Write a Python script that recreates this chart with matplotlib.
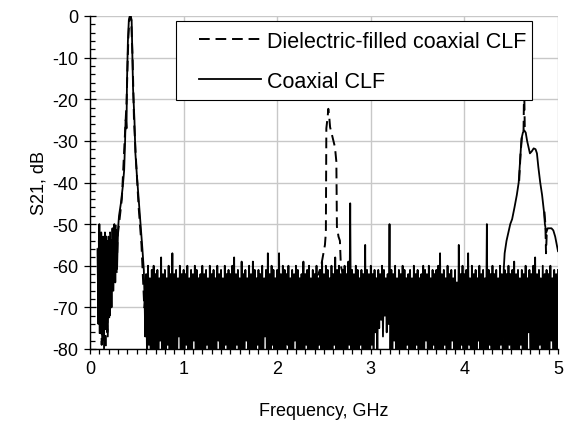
import numpy as np
import matplotlib
matplotlib.use("Agg")
import matplotlib.pyplot as plt
from matplotlib.patches import Rectangle
from matplotlib.ticker import MultipleLocator

plt.rcParams['font.family'] = ['Liberation Sans', 'DejaVu Sans']
plt.rcParams['axes.unicode_minus'] = False

# ---------------- data ----------------
# Coaxial CLF (solid line)
coax_cluster_f = [0.08, 0.09, 0.10, 0.11, 0.12, 0.13, 0.14, 0.15, 0.16, 0.17, 0.18,
                  0.19, 0.20, 0.21, 0.22, 0.23, 0.24, 0.25, 0.26, 0.27, 0.28, 0.29, 0.30]
coax_cluster_db = [-56, -74, -50, -76, -52, -78, -53, -80, -52, -75, -54,
                   -77, -53, -72, -55, -70, -51, -66, -50, -64, -52, -60, -51]

coax_peak1_f = [0.31, 0.33, 0.35, 0.365, 0.375, 0.38, 0.385, 0.39, 0.395, 0.405, 0.415,
                0.425, 0.435, 0.445, 0.455, 0.46, 0.475, 0.485, 0.50, 0.52, 0.54, 0.56,
                0.575, 0.585, 0.59]
coax_peak1_db = [-48, -45, -41, -37, -30, -25, -25, -27, -16, -6, -1,
                 0, 0, -1, -12, -17.5, -25, -33, -38, -44, -50, -56,
                 -61, -70, -77]

# noise floor, sweep 0.60 ... 4.42 GHz
coax_floor_start, coax_floor_stop = 0.60, 4.42
coax_floor_db = [
    -62, -84, -60, -79, -63, -88, -61, -82, -60, -86,
    -62, -80, -61, -90, -63, -78, -58, -85, -62, -81,
    -61, -87, -63, -79, -60, -84, -62, -82, -57, -88,
    -62, -80, -61, -86, -63, -77, -60, -89, -62, -83,
    -61, -85, -62, -79, -60, -87, -63, -81, -61, -84,
    -62, -78, -60, -88, -61, -83, -63, -80, -62, -86,
    -60, -82, -62, -89, -61, -79, -63, -85, -60, -81,
    -62, -87, -61, -80, -63, -84, -60, -78, -62, -88,
    -61, -82, -63, -86, -60, -79, -62, -84, -61, -80,
    -62, -88, -60, -81, -58, -85, -62, -79, -61, -87,
    -63, -83, -59, -80, -62, -86, -61, -78, -63, -84,
    -60, -89, -62, -82, -59, -80, -61, -85, -63, -79,
    -61, -86, -62, -81, -60, -88, -63, -77, -61, -84,
    -57, -82, -62, -87, -60, -79, -61, -85, -63, -80,
    -61, -88, -57, -83, -62, -84, -60, -86, -61, -80,
    -62, -79, -60, -85, -63, -82, -61, -89, -62, -78,
    -60, -84, -61, -80, -63, -87, -62, -81, -59, -86,
    -62, -79, -61, -88, -60, -83, -63, -80, -61, -85,
    -62, -82, -60, -87, -63, -79, -61, -84, -59, -81,
    -62, -86, -60, -80, -61, -88, -63, -82, -60, -85,
    -62, -79, -58, -84, -61, -87, -60, -80, -62, -83,
    -61, -88, -60, -81, -62, -85, -59, -79, -45, -86,
    -61, -80, -62, -84, -60, -87, -61, -82, -63, -79,
    -61, -85, -62, -81, -55, -88, -61, -80, -62, -84,
    -60, -79, -62, -86, -61, -76, -63, -82, -61, -75,
    -62, -73, -60, -77, -61, -72, -63, -76, -62, -74,
    -50, -80, -61, -85, -62, -78, -60, -84, -63, -81,
    -61, -87, -62, -80, -60, -83, -61, -86, -63, -79,
    -62, -84, -61, -88, -63, -80, -60, -85, -62, -79,
    -61, -82, -63, -87, -62, -80, -60, -84, -61, -78,
    -62, -86, -60, -81, -63, -85, -61, -79, -62, -88,
    -61, -80, -60, -84, -57, -82, -62, -87, -61, -79,
    -63, -85, -60, -81, -62, -88, -61, -78, -63, -84,
    -61, -80, -64, -86, -55, -82, -62, -79, -60, -87,
    -62, -81, -61, -85, -57, -79, -63, -88, -60, -83,
    -62, -80, -61, -86, -63, -78, -60, -84, -62, -81,
    -61, -87, -63, -80, -50, -85, -61, -79, -62, -84,
    -60, -82, -62, -88, -61, -80, -63, -85, -60, -79,
    -62, -84, -61,
]

coax_peak2_f = [4.43, 4.45, 4.47, 4.49, 4.51, 4.535, 4.56, 4.58, 4.60, 4.61, 4.625,
                4.64, 4.655, 4.67, 4.685, 4.70, 4.72, 4.74, 4.76, 4.775, 4.79, 4.81,
                4.83, 4.85, 4.86, 4.875, 4.89, 4.91, 4.93, 4.95, 4.97, 5.00]
coax_peak2_db = [-57, -54, -52, -50, -48.8, -46, -43, -40, -33, -29.5, -28,
                 -27.5, -28, -30, -31.5, -33, -32.5, -31.8, -32, -33, -36.3, -40,
                 -43, -47, -50, -52, -51, -51, -51, -51.5, -53, -56.5]

# Dielectric-filled coaxial CLF (dashed line)
diel_cluster_f = [0.085, 0.095, 0.105, 0.115, 0.125, 0.135, 0.145, 0.155, 0.165, 0.175, 0.185,
                  0.195, 0.205, 0.215, 0.225, 0.235, 0.245, 0.255, 0.265, 0.275, 0.285, 0.295]
diel_cluster_db = [-70, -54, -77, -53, -79, -54, -74, -55, -80, -53, -76,
                   -54, -73, -52, -68, -53, -65, -51, -63, -50, -62, -53]

diel_peak1_f = [0.31, 0.34, 0.37, 0.39, 0.41, 0.42, 0.43, 0.44, 0.455, 0.47, 0.49,
                0.52, 0.55, 0.58, 0.60]
diel_peak1_db = [-50, -44, -30, -21, -5, -1, 0, -1, -10, -25, -34,
                 -46, -55, -70, -65]

diel_peak2_f = [2.40, 2.44, 2.47, 2.49, 2.51, 2.52, 2.525, 2.54, 2.546, 2.555, 2.565,
                2.59, 2.617, 2.632, 2.638, 2.655, 2.67, 2.68, 2.70]
diel_peak2_db = [-63, -62, -60, -57.5, -55, -52, -27, -24, -22.3, -24, -26.7,
                 -29, -31.5, -35, -50.6, -53, -54, -60, -62]

# noise floor, sweep 4.42 ... 5.00 GHz
diel_floor_start, diel_floor_stop = 4.42, 5.00
diel_floor_db = [
    -84, -61, -80, -62, -86, -60, -79,
    -62, -85, -61, -81, -59, -88, -62, -80, -61, -84,
    -63, -79, -61, -87, -62, -82, -60, -85, -63, -76,
    -61, -83, -62, -80, -60, -86, -58, -81, -62, -88,
    -61, -79, -63, -84, -60, -82, -62, -87, -61, -80,
    -62, -85, -60, -78, -63, -84, -61, -80, -62, -86,
    -61,
]

diel_top_f = [4.585, 4.60, 4.615, 4.625, 4.632, 4.638, 4.645, 4.655]
diel_top_db = [-39.6, -33, -29, -28, -27.5, -16, -27, -28]

diel_dip_f = [4.855, 4.865, 4.872, 4.88, 4.89]
diel_dip_db = [-47, -50, -57, -52, -51]

x_ticks = [0, 1, 2, 3, 4, 5]
y_ticks = [-80, -70, -60, -50, -40, -30, -20, -10, 0]
label_diel = 'Dielectric-filled coaxial CLF'
label_coax = 'Coaxial CLF'

# ---------------- figure ----------------
fig = plt.figure(figsize=(5.67, 4.31), dpi=100)
ax = fig.add_axes([90 / 567, 1 - 350 / 431, 468 / 567, 333 / 431])

coax_floor_f = np.linspace(coax_floor_start, coax_floor_stop, len(coax_floor_db))
diel_floor_f = np.linspace(diel_floor_start, diel_floor_stop, len(diel_floor_db))

coax_f = np.concatenate([coax_cluster_f, coax_peak1_f, coax_floor_f, coax_peak2_f])
coax_db = np.concatenate([coax_cluster_db, coax_peak1_db, coax_floor_db, coax_peak2_db])

solid_kw = dict(color='black', lw=1.3)
dash_kw = dict(color='black', lw=1.4, linestyle=(0, (5.5, 3)))
floor_kw = dict(color='black', lw=1.3)

ax.plot(coax_f, coax_db, **solid_kw, zorder=3)
ax.plot(np.concatenate([diel_cluster_f, diel_peak1_f]),
        np.concatenate([diel_cluster_db, diel_peak1_db]), **dash_kw, zorder=3)
ax.plot(diel_peak2_f, diel_peak2_db, **dash_kw, zorder=3)
# the dense noise floor of the dashed trace renders as solid black
ax.plot(diel_floor_f, diel_floor_db, **floor_kw, zorder=2.9)
ax.plot(diel_top_f, diel_top_db, **dash_kw, zorder=3)
ax.plot(diel_dip_f, diel_dip_db, **dash_kw, zorder=3)

ax.set_xlim(0, 5)
ax.set_ylim(-80, 0)
ax.set_xticks(x_ticks)
ax.set_yticks(y_ticks)
ax.xaxis.set_minor_locator(MultipleLocator(0.1))
ax.yaxis.set_minor_locator(MultipleLocator(2))
ax.tick_params(axis='x', which='both', direction='out', length=3.6, width=0.9,
               labelsize=13, pad=4, colors='black')
ax.tick_params(axis='y', which='major', direction='inout', length=9, width=0.9,
               labelsize=13, pad=4)
ax.tick_params(axis='y', which='minor', direction='in', length=3.6, width=0.9)
ax.grid(True, which='major', color='#c8c8c8', lw=1.0, zorder=0)
ax.set_axisbelow(True)
for s in ['top', 'right']:
    ax.spines[s].set_visible(False)
for s in ['left', 'bottom']:
    ax.spines[s].set_linewidth(1.0)
    ax.spines[s].set_zorder(4)

ax.set_xlabel('Frequency, GHz', fontsize=13, labelpad=18)
ax.set_ylabel('S21, dB', fontsize=13, labelpad=3)

# legend box
box = Rectangle((0.1831, 0.7477), 0.9444 - 0.1831, 0.9841 - 0.7477, transform=ax.transAxes,
                facecolor='white', edgecolor='black', lw=0.8, zorder=5, clip_on=False)
ax.add_patch(box)
h1, = ax.plot([], [], **dash_kw, label=label_diel)
h2, = ax.plot([], [], **solid_kw, label=label_coax)
leg = ax.legend(handles=[h1, h2], loc='upper left', bbox_to_anchor=(0.2329, 0.9553),
                frameon=False, fontsize=15.5, borderpad=0, borderaxespad=0,
                handlelength=2.88, handletextpad=0.27, labelspacing=0.87)
leg.set_zorder(6)

fig.savefig('out.png', dpi=100)
